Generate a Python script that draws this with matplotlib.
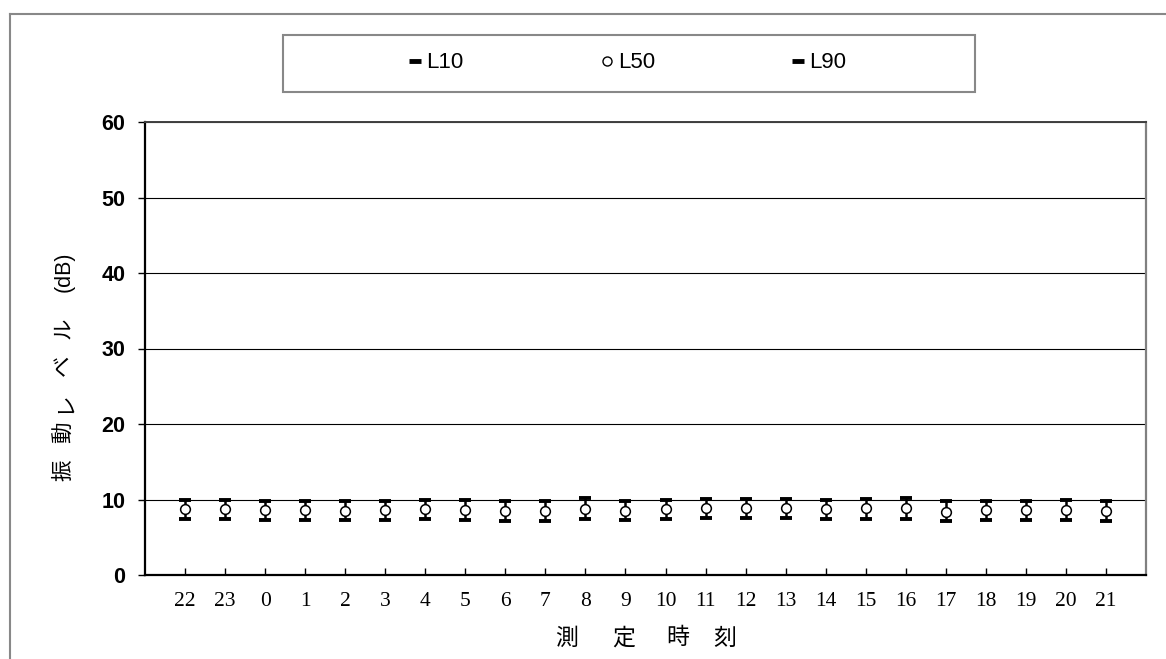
import numpy as np
import matplotlib
matplotlib.use("Agg")
import matplotlib.pyplot as plt
from matplotlib.lines import Line2D
from matplotlib.patches import Rectangle

plt.rcParams['font.family'] = ['Liberation Sans', 'Noto Sans CJK JP', 'DejaVu Sans']

# hourly vibration levels (dB)
hours = ["22", "23", "0", "1", "2", "3", "4", "5", "6", "7", "8", "9",
         "10", "11", "12", "13", "14", "15", "16", "17", "18", "19", "20", "21"]
L10 = [10.0, 10.0, 9.85, 9.85, 9.75, 9.85, 9.9, 9.9, 9.8, 9.8, 10.2, 9.8,
       10.0, 10.05, 10.1, 10.1, 9.95, 10.05, 10.2, 9.8, 9.85, 9.85, 9.95, 9.8]
L50 = [8.7, 8.7, 8.6, 8.6, 8.5, 8.55, 8.7, 8.65, 8.45, 8.45, 8.75, 8.5,
       8.75, 8.85, 8.85, 8.85, 8.75, 8.85, 8.9, 8.4, 8.65, 8.6, 8.65, 8.5]
L90 = [7.4, 7.4, 7.25, 7.25, 7.25, 7.25, 7.4, 7.35, 7.2, 7.2, 7.4, 7.25,
       7.4, 7.5, 7.5, 7.5, 7.4, 7.45, 7.45, 7.2, 7.35, 7.3, 7.3, 7.2]
yticks = [0, 10, 20, 30, 40, 50, 60]

W, H = 1166, 659
fig = plt.figure(figsize=(W / 100, H / 100), dpi=100)
ax = fig.add_axes([145 / W, 1 - 575 / H, (1146 - 145) / W, (575 - 122) / H])

x = np.arange(len(hours))
# high-low lines
ax.vlines(x, L90, L10, color='black', lw=1.8, zorder=3)
ax.plot(x, L10, ls='none', marker='_', ms=9, mew=2.8, color='black', zorder=4)
ax.plot(x, L90, ls='none', marker='_', ms=9, mew=2.8, color='black', zorder=4)
ax.plot(x, L50, ls='none', marker='o', ms=7, mfc='white', mec='black', mew=1.1, zorder=5)

ax.set_xlim(-1.0, 24.0)
ax.set_ylim(0, 60)
ax.set_yticks(yticks)
ax.set_yticklabels([str(v) for v in yticks], fontsize=15.5, fontweight='bold',
                   family='Liberation Sans')
ax.set_xticks(x)
ax.set_xticklabels(hours, fontsize=15.5, family='Liberation Serif')
ax.tick_params(axis='x', direction='in', length=5, width=1, pad=12)
ax.tick_params(axis='y', direction='out', length=5, width=1, pad=9)
ax.yaxis.grid(True, color='black', lw=0.8)
ax.set_axisbelow(True)

ax.spines['left'].set_linewidth(1.6)
ax.spines['bottom'].set_linewidth(1.6)
ax.spines['top'].set_color('#404040')
ax.spines['top'].set_linewidth(1.4)
ax.spines['right'].set_color('#808080')
ax.spines['right'].set_linewidth(1.6)

# axis titles, spaced out character by character
for ch, xc in zip("測定時刻", [567, 624, 678, 725]):
    fig.text(xc / W, 1 - 638 / H, ch, fontsize=16.5, family='Noto Sans CJK JP',
             ha='center', va='center')
for ch, yc in zip(["振", "動", "レ", "ベ", "ル", "(dB)"], [470, 432, 402, 365, 328, 272]):
    fig.text(64 / W, 1 - yc / H, ch, fontsize=15.5, family=['Liberation Sans', 'Noto Sans CJK JP'],
             rotation=90, ha='center', va='center')

# legend box
fig.patches.append(Rectangle((283 / W, 1 - 92 / H), (975 - 283) / W, (92 - 35) / H,
                             transform=fig.transFigure, fill=False,
                             edgecolor='#888888', lw=1.5))
handles = [
    Line2D([], [], ls='none', marker='_', ms=8, mew=3.5, color='black'),
    Line2D([], [], ls='none', marker='o', ms=6.5, mfc='white', mec='black', mew=1.0),
    Line2D([], [], ls='none', marker='_', ms=8, mew=3.5, color='black'),
]
fig.legend(handles, ["L10", "L50", "L90"], loc='center',
           bbox_to_anchor=(628 / W, 1 - 63 / H), ncol=3, frameon=False,
           prop={'size': 16, 'family': 'Liberation Sans'},
           handlelength=0.5, handletextpad=0.25, columnspacing=6.2)

# outer chart frame (cropped on right and bottom)
fig.add_artist(Line2D([10 / W, 1], [1 - 14 / H, 1 - 14 / H], transform=fig.transFigure,
                      color='#888888', lw=1.5))
fig.add_artist(Line2D([10 / W, 10 / W], [0, 1 - 14 / H], transform=fig.transFigure,
                      color='#888888', lw=1.5))

fig.savefig("out.png", dpi=100)
